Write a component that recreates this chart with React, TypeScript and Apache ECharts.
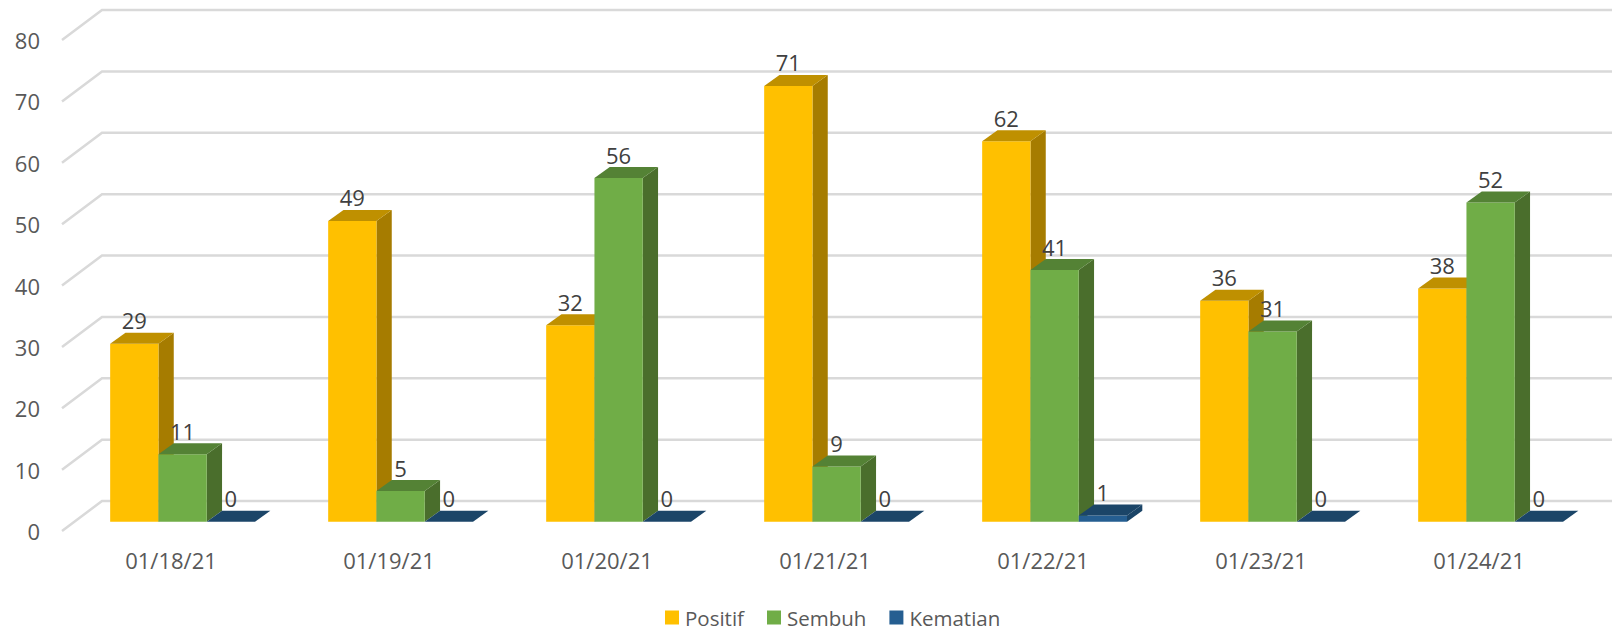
import React, { useEffect, useRef } from "react";
import * as echarts from "echarts";

const categories = ["01/18/21", "01/19/21", "01/20/21", "01/21/21", "01/22/21", "01/23/21", "01/24/21"];
const positif = [29, 49, 32, 71, 62, 36, 38];
const sembuh = [11, 5, 56, 9, 41, 31, 52];
const kematian = [0, 0, 0, 0, 1, 0, 0];
const yTicks = [0, 10, 20, 30, 40, 50, 60, 70, 80];

const FONT = "Open Sans";
const WALL_DX = 40;
const WALL_DY = 30;
const BAR_SHIFT_X = 11.6;
const BAR_SHIFT_Y = 9.3;
const DEPTH_X = 15.3;
const DEPTH_Y = 11;
const BAR_W_RATIO = 0.2215;

function barRenderer(seriesIndex: number, front: string, top: string, side: string) {
  return (_params: any, api: any) => {
    const cat = api.value(0);
    const val = api.value(1);
    const base = api.coord([cat, 0]);
    const peak = api.coord([cat, val]);
    const w = api.size([1, 0])[0] * BAR_W_RATIO;
    const x0 = base[0] + BAR_SHIFT_X + (seriesIndex - 1.5) * w;
    const x1 = x0 + w;
    const yb = base[1] - BAR_SHIFT_Y;
    const yt = peak[1] - BAR_SHIFT_Y;
    const children: any[] = [];
    if (yb - yt > 0) {
      children.push({
        type: "polygon",
        shape: { points: [[x1, yb], [x1 + DEPTH_X, yb - DEPTH_Y], [x1 + DEPTH_X, yt - DEPTH_Y], [x1, yt]] },
        style: { fill: side },
      });
      children.push({
        type: "rect",
        shape: { x: x0, y: yt, width: w, height: yb - yt },
        style: { fill: front },
      });
    }
    children.push({
      type: "polygon",
      shape: { points: [[x0, yt], [x1, yt], [x1 + DEPTH_X, yt - DEPTH_Y], [x0 + DEPTH_X, yt - DEPTH_Y]] },
      style: { fill: top },
    });
    children.push({
      type: "text",
      z2: 100,
      style: {
        text: String(val),
        x: x0 + w / 2,
        y: yt - 23.5,
        align: "center",
        verticalAlign: "middle",
        fill: "#404040",
        fontSize: 22,
        fontFamily: FONT,
      },
    });
    return { type: "group", children };
  };
}

function gridRenderer(params: any, api: any) {
  const v = api.value(0);
  const y = api.coord([0, v])[1];
  const cs = params.coordSys;
  return {
    type: "polyline",
    shape: {
      points: [
        [cs.x, y],
        [cs.x + WALL_DX, y - WALL_DY],
        [cs.x + cs.width + WALL_DX, y - WALL_DY],
      ],
    },
    style: { fill: "none", stroke: "#D9D9D9", lineWidth: 2.5 },
  };
}

function barSeries(name: string, values: number[], idx: number, front: string, top: string, side: string) {
  return {
    name,
    type: "custom",
    coordinateSystem: "cartesian2d",
    renderItem: barRenderer(idx, front, top, side),
    itemStyle: { color: front },
    encode: { x: 0, y: 1 },
    data: values.map((v, i) => [i, v]),
    silent: true,
    z: 3,
  };
}

export default function App() {
  const ref = useRef<HTMLDivElement>(null);
  useEffect(() => {
    const chart = echarts.init(ref.current!, undefined, { renderer: "svg" });
    chart.setOption({
      animation: false,
      backgroundColor: "#ffffff",
      grid: { left: 62, top: 40, width: 1526, height: 491, containLabel: false },
      xAxis: {
        type: "category",
        data: categories,
        axisLine: { show: false },
        axisTick: { show: false },
        splitLine: { show: false },
        axisLabel: { color: "#595959", fontSize: 22, fontFamily: FONT, margin: 18 },
      },
      yAxis: {
        type: "value",
        min: 0,
        max: 80,
        interval: 10,
        axisLine: { show: false },
        axisTick: { show: false },
        splitLine: { show: false },
        axisLabel: { color: "#595959", fontSize: 22, fontFamily: FONT, margin: 22 },
      },
      legend: {
        left: 665,
        top: 607,
        itemWidth: 14,
        itemHeight: 14,
        itemGap: 23,
        padding: 0,
        icon: "rect",
        textStyle: { color: "#595959", fontSize: 20.5, fontFamily: FONT, padding: [0, 0, 0, 1] },
        data: ["Positif", "Sembuh", "Kematian"],
        selectedMode: false,
      },
      series: [
        {
          name: "grid",
          type: "custom",
          coordinateSystem: "cartesian2d",
          renderItem: gridRenderer,
          encode: { y: 0 },
          data: yTicks.map((v) => [v]),
          silent: true,
          z: 1,
        },
        barSeries("Positif", positif, 0, "#FFC000", "#BF9000", "#A67C00"),
        barSeries("Sembuh", sembuh, 1, "#70AD47", "#548235", "#4A6E2C"),
        barSeries("Kematian", kematian, 2, "#255E91", "#1B4568", "#1A4467"),
      ],
    });
    return () => chart.dispose();
  }, []);
  return <div ref={ref} style={{ position: "absolute", left: 0, top: 0, width: 1612, height: 630 }} />;
}
